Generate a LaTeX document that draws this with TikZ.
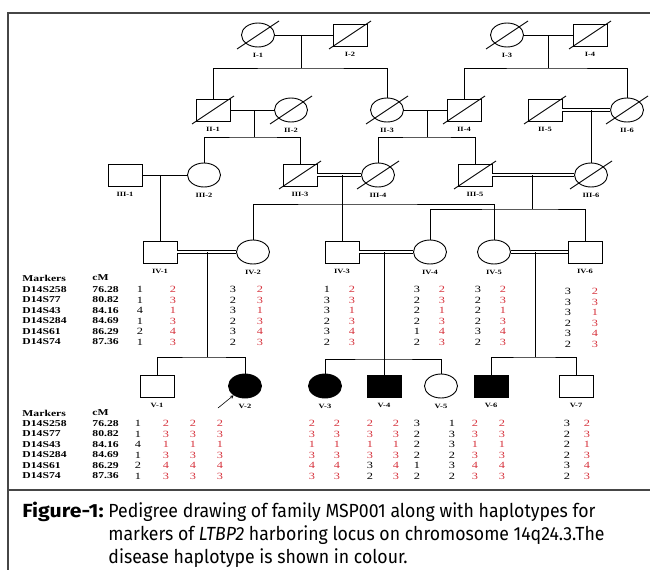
\documentclass[tikz,border=0pt]{standalone}
\usepackage{fontspec}
\setmainfont{Liberation Serif}
\newfontfamily\tabfont[FakeStretch=1.3]{Liberation Serif}
\newfontfamily\capfont[FakeStretch=0.93]{Fira Sans}
\newfontfamily\capbfont[FakeStretch=1.12]{Fira Sans}
\usetikzlibrary{shapes.geometric}
\definecolor{hapred}{RGB}{214,50,60}
\definecolor{framegray}{RGB}{70,70,70}

\begin{document}
\begin{tikzpicture}[x=1pt, y=-1pt, line width=0.9pt]
\useasboundingbox (0,0) rectangle (650,570);

\tikzstyle{male}=[draw, rectangle, minimum width=34pt, minimum height=22pt, inner sep=0pt]
\tikzstyle{female}=[draw, ellipse, minimum width=33pt, minimum height=24pt, inner sep=0pt]
\tikzstyle{affected}=[fill=black]
\tikzstyle{lbl}=[font=\tabfont\fontsize{6.5}{7}\bfseries, inner sep=0pt, label distance=5pt]
\tikzstyle{couple}=[double, double distance=2pt, line width=0.6pt]
\tikzstyle{hap}=[anchor=north, inner sep=0pt, align=center, font=\tabfont\fontsize{9.5}{10.5}\selectfont]
\tikzstyle{hapr}=[hap, text=hapred]
\tikzstyle{tab}=[anchor=north west, inner sep=0pt, align=left, font=\tabfont\fontsize{9}{10.5}\bfseries]
\tikzstyle{caption}=[anchor=base west, inner sep=0pt, font=\capfont\fontsize{19}{23}\selectfont]

% frame
\draw[framegray, line width=1.3pt] (650,13) -- (8,13) -- (8,570);
\draw[framegray, line width=1.3pt] (8,490) -- (650,490);

% generation I
\node[female] (i1) at (258,35) [label={[lbl]below:I-1}] {};
\node[male]   (i2) at (350,35) [label={[lbl]below:I-2}] {};
\node[female] (i3) at (507,35) [label={[lbl]below:I-3}] {};
\node[male]   (i4) at (590,35) [label={[lbl]below:I-4}] {};

% generation II
\node[male]   (ii1) at (213,110) [label={[lbl]below:II-1}] {};
\node[female] (ii2) at (291,110) [label={[lbl]below:II-2}] {};
\node[female] (ii3) at (387,110) [label={[lbl]below:II-3}] {};
\node[male]   (ii4) at (464,110) [label={[lbl]below:II-4}] {};
\node[male]   (ii5) at (545,110) [label={[lbl]below:II-5}] {};
\node[female] (ii6) at (627,110) [label={[lbl]below:II-6}] {};

% generation III
\node[male]   (iii1) at (125,175) [label={[lbl]below:III-1}] {};
\node[female] (iii2) at (204,175) [label={[lbl]below:III-2}] {};
\node[male]   (iii3) at (300,175) [label={[lbl]below:III-3}] {};
\node[female] (iii4) at (378,175) [label={[lbl]below:III-4}] {};
\node[male]   (iii5) at (475,175) [label={[lbl]below:III-5}] {};
\node[female] (iii6) at (591,175) [label={[lbl]below:III-6}] {};

% generation IV
\node[male]   (iv1) at (160,252) [label={[lbl]below:IV-1}] {};
\node[female] (iv2) at (253,252) [label={[lbl]below:IV-2}] {};
\node[male]   (iv3) at (342,252) [label={[lbl]below:IV-3}] {};
\node[female] (iv4) at (430,252) [label={[lbl]below:IV-4}] {};
\node[female] (iv5) at (494,252) [label={[lbl]below:IV-5}] {};
\node[male]   (iv6) at (585,252) [label={[lbl]below:IV-6}] {};

% generation V
\node[male]             (v1) at (157,386) [label={[lbl]below:V-1}] {};
\node[female, affected] (v2) at (245,386) [label={[lbl]below:V-2}] {};
\node[female, affected] (v3) at (325,386) [label={[lbl]below:V-3}] {};
\node[male, affected]   (v4) at (384,386) [label={[lbl]below:V-4}] {};
\node[female]           (v5) at (441,386) [label={[lbl]below:V-5}] {};
\node[male, affected]   (v6) at (491,386) [label={[lbl]below:V-6}] {};
\node[male]             (v7) at (576,386) [label={[lbl]below:V-7}] {};

% deceased
\foreach \n in {i1,i2,i3,i4,ii1,ii2,ii3,ii4,ii5,ii6,iii3,iii4,iii5,iii6}
  \draw ([shift={(-21,14)}]\n.center) -- ([shift={(21,-14)}]\n.center);

% marriages
\draw (i1) -- (i2);
\draw (i3) -- (i4);
\draw (ii1) -- (ii2);
\draw (ii3) -- (ii4);
\draw[couple] (ii5) -- (ii6);
\draw (iii1) -- (iii2);
\draw[couple] (iii3) -- (iii4);
\draw[couple] (iii5) -- (iii6);
\draw[couple] (iv1) -- (iv2);
\draw[couple] (iv3) -- (iv4);
\draw[couple] (iv5) -- (iv6);

% sibships
\coordinate (s1) at (301,68);
\coordinate (s2) at (548,68);
\coordinate (s3) at (254,137);
\coordinate (s4) at (427,137);
\coordinate (s5) at (591,110);
\coordinate (s6) at (160,175);
\coordinate (s7) at (342,204);
\coordinate (s8) at (532,209);
\coordinate (s9) at (207,357);
\coordinate (s10) at (384,359);
\coordinate (s11) at (535,357);

\draw (s1 |- i1) -- (s1);
\draw (ii1) |- (s1) -| (ii3);
\draw (s2 |- i3) -- (s2);
\draw (ii4) |- (s2) -| (ii6);
\draw (s3 |- ii1) -- (s3);
\draw (iii2) |- (s3) -| (iii3);
\draw (s4 |- ii3) -- (s4);
\draw (iii4) |- (s4) -| (iii5);
\draw (s5) -- (iii6);
\draw (s6) -- (iv1);
\draw (s7 |- iii3) -- (iv3);
\draw (iv2) |- (s7) -| (iv5);
\draw (s8 |- iii5) -- (s8);
\draw (iv4) |- (s8) -| (iv6);
\draw (s9 |- iv1) -- (s9);
\draw (v1) |- (s9) -| (v2);
\draw (s10 |- iv3) -- (v4);
\draw (v3) |- (s10) -| (v5);
\draw (s11 |- iv5) -- (s11);
\draw (v6) |- (s11) -| (v7);

% proband
\coordinate (pb) at (218,408);
\draw[->, >=stealth, line width=0.6pt] (pb) -- (v2);

% haplotypes generation IV
\node[tab, anchor=west] (mkhead4) at (22,278) {Markers};
\node[tab, anchor=west] (cmhead4) at (92,278) {cM};
\node[tab] (mk4) at (22,286) {D14S258\\D14S77\\D14S43\\D14S284\\D14S61\\D14S74};
\node[tab] (cm4) at (92,286) {76.28\\80.82\\84.16\\84.69\\86.29\\87.36};
\node[hap]  (h1a) at (140,286) {1\\1\\4\\1\\2\\1};
\node[hapr] (h1b) at (173,286) {2\\3\\1\\3\\4\\3};
\node[hap]  (h2a) at (233,286) {3\\2\\3\\2\\3\\2};
\node[hapr] (h2b) at (260,286) {2\\3\\1\\3\\4\\3};
\node[hap]  (h3a) at (327,286) {1\\3\\3\\2\\3\\2};
\node[hapr] (h3b) at (352,286) {2\\3\\1\\3\\4\\3};
\node[hap]  (h4a) at (417,286) {3\\2\\2\\2\\1\\2};
\node[hapr] (h4b) at (442,286) {2\\3\\1\\3\\4\\3};
\node[hap]  (h5a) at (478,286) {3\\2\\2\\2\\3\\2};
\node[hapr] (h5b) at (503,286) {2\\3\\1\\3\\4\\3};
\node[hap]  (h6a) at (568,288) {3\\3\\3\\2\\3\\2};
\node[hapr] (h6b) at (595,288) {2\\3\\1\\3\\4\\3};

% haplotypes generation V
\node[tab, anchor=west] (mkhead5) at (22,413) {Markers};
\node[tab, anchor=west] (cmhead5) at (92,413) {cM};
\node[tab] (mk5) at (22,420) {D14S258\\D14S77\\D14S43\\D14S284\\D14S61\\D14S74};
\node[tab] (cm5) at (92,420) {76.28\\80.82\\84.16\\84.69\\86.29\\87.36};
\node[hap]  (k1a) at (138,420) {1\\1\\4\\1\\2\\1};
\node[hapr] (k1b) at (166,420) {2\\3\\1\\3\\4\\3};
\node[hapr] (k2a) at (193,420) {2\\3\\1\\3\\4\\3};
\node[hapr] (k2b) at (220,420) {2\\3\\1\\3\\4\\3};
\node[hapr] (k3a) at (312,420) {2\\3\\1\\3\\4\\3};
\node[hapr] (k3b) at (337,420) {2\\3\\1\\3\\4\\3};
\node[hapr] (k4a) at (370,420) {2\\3\\1\\3\\\textcolor{black}{3}\\\textcolor{black}{2}};
\node[hapr] (k4b) at (396,420) {2\\3\\1\\3\\4\\3};
\node[hap]  (k5a) at (417,420) {3\\2\\2\\2\\1\\2};
\node[hap]  (k5b) at (452,420) {1\\3\\3\\2\\3\\2};
\node[hapr] (k6a) at (475,420) {2\\3\\1\\3\\4\\3};
\node[hapr] (k6b) at (502,420) {2\\3\\1\\3\\4\\3};
\node[hap]  (k7a) at (567,420) {3\\2\\2\\2\\3\\2};
\node[hapr] (k7b) at (587,420) {2\\3\\1\\3\\4\\3};

% caption
\node[caption, font=\capbfont\fontsize{19}{23}\bfseries] (figno) at (22,517) {Figure-1:};
\node[caption] (cap1) at (108,517) {Pedigree drawing of family MSP001 along with haplotypes for};
\node[caption] (cap2) at (108,540) {markers of \textit{LTBP2} harboring locus on chromosome 14q24.3.The};
\node[caption] (cap3) at (108,563) {disease haplotype is shown in colour.};

\end{tikzpicture}
\end{document}
